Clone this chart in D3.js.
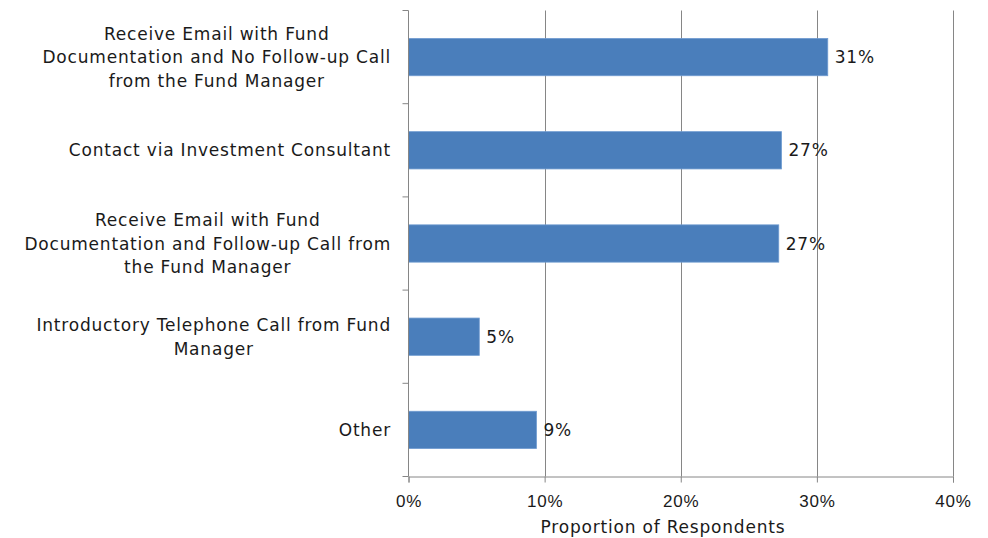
<!DOCTYPE html>
<html>
<head>
<meta charset="utf-8">
<script src="https://cdn.jsdelivr.net/npm/d3@7"></script>
<style>
  html, body { margin: 0; padding: 0; background: #fff; }
  svg { display: block; font-family: "Century Gothic", "DejaVu Sans", sans-serif; }
  svg text { letter-spacing: 0.8px; }
</style>
</head>
<body>
<svg id="chart" width="988" height="538"></svg>
<script>
// Preferred contact approaches (lines of each label separated by "\n")
const categories = [
  "Receive Email with Fund\nDocumentation and No Follow-up Call\nfrom the Fund Manager",
  "Contact via Investment Consultant",
  "Receive Email with Fund\nDocumentation and Follow-up Call from\nthe Fund Manager",
  "Introductory Telephone Call from Fund\nManager",
  "Other"
];
// Share of respondents
const values = [0.308, 0.274, 0.272, 0.052, 0.094];
const xTicks = [0, 0.1, 0.2, 0.3, 0.4];
const xTitle = "Proportion of Respondents";

const svg = d3.select("#chart");
const margin = { left: 408.5, right: 35, top: 10.5, bottom: 61.5 };
const W = 988, H = 538;

const x = d3.scaleLinear().domain([0, 0.4]).range([margin.left, W - margin.right]);
const y = d3.scaleBand().domain(d3.range(categories.length))
  .range([margin.top, H - margin.bottom]).paddingInner(0.6).paddingOuter(0.3);

const fmt = d3.format(".0%");
const gridColor = "#868686";
const fontSize = 17;
const textColor = "#1a1a1a";

// Vertical gridlines
svg.append("g").selectAll("line").data(xTicks.slice(1)).join("line")
  .attr("x1", d => Math.round(x(d)) + 0.5).attr("x2", d => Math.round(x(d)) + 0.5)
  .attr("y1", margin.top).attr("y2", H - margin.bottom)
  .attr("stroke", gridColor).attr("stroke-width", 1);

// Bars
svg.append("g").selectAll("rect").data(values).join("rect")
  .attr("x", x(0))
  .attr("y", (d, i) => y(i))
  .attr("width", d => x(d) - x(0))
  .attr("height", y.bandwidth())
  .attr("fill", "#4a7ebb")
  .attr("stroke", "#6f9bd0").attr("stroke-width", 0.8);

// Value labels
svg.append("g").selectAll("text").data(values).join("text")
  .attr("x", d => x(d) + 7)
  .attr("y", (d, i) => y(i) + y.bandwidth() / 2)
  .attr("dy", "0.36em")
  .attr("font-size", fontSize)
  .attr("fill", textColor)
  .text(d => fmt(d));

// Bottom axis
const xAxis = d3.axisBottom(x).tickValues(xTicks).tickFormat(fmt).tickSize(6).tickPadding(12);
const gx = svg.append("g").attr("transform", `translate(0,${H - margin.bottom})`).call(xAxis);
gx.select(".domain").attr("stroke", gridColor);
gx.selectAll(".tick line").attr("stroke", gridColor);
gx.selectAll(".tick text").attr("font-size", fontSize).attr("fill", textColor)
  .attr("font-family", null);

// Left axis with ticks on band boundaries
const gy = svg.append("g");
gy.append("line")
  .attr("x1", margin.left).attr("x2", margin.left)
  .attr("y1", margin.top).attr("y2", H - margin.bottom)
  .attr("stroke", gridColor);
const bounds = d3.range(categories.length + 1).map(i => margin.top + i * y.step());
gy.selectAll("line.tk").data(bounds).join("line").attr("class", "tk")
  .attr("x1", margin.left - 6).attr("x2", margin.left)
  .attr("y1", d => d).attr("y2", d => d)
  .attr("stroke", gridColor);

// Category labels: centred lines, block right-aligned against the axis
const lineH = 23.5;
const labelRight = 391;
categories.forEach((c, i) => {
  const lines = c.split("\n");
  const g = svg.append("g");
  const cy = y(i) + y.bandwidth() / 2;
  const texts = lines.map((ln, j) => g.append("text")
    .attr("font-size", fontSize).attr("fill", textColor)
    .attr("text-anchor", "middle")
    .attr("y", cy + (j - (lines.length - 1) / 2) * lineH)
    .attr("dy", "0.36em")
    .text(ln));
  const wMax = d3.max(texts, t => t.node().getComputedTextLength());
  texts.forEach(t => t.attr("x", labelRight - wMax / 2));
});

// Axis title
svg.append("text")
  .attr("x", 663).attr("y", 527).attr("dy", "0.36em")
  .attr("text-anchor", "middle")
  .attr("font-size", fontSize).attr("fill", textColor)
  .text(xTitle);
</script>
</body>
</html>
